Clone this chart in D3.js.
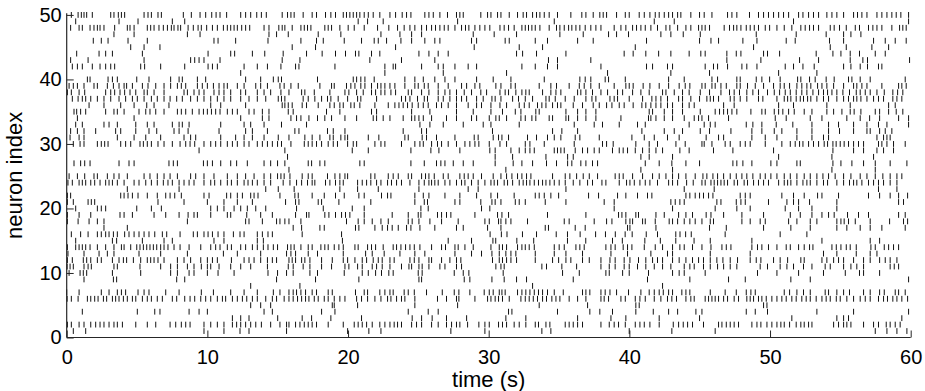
<!DOCTYPE html>
<html>
<head>
<meta charset="utf-8">
<script src="https://cdn.jsdelivr.net/npm/d3@7"></script>
<style>
  html, body { margin: 0; padding: 0; background: #fff; }
  svg { display: block; }
  text { font-family: "Liberation Sans", Arial, Helvetica, sans-serif; }
</style>
</head>
<body>
<svg id="chart" width="925" height="391"></svg>
<script>
// ---- tick labels ----
const xTicks = [0, 10, 20, 30, 40, 50, 60];
const yTicks = [0, 10, 20, 30, 40, 50];
const xLabel = "time (s)";
const yLabel = "neuron index";

// ---- spike times (s) per neuron ----
const n50 = [0.33,0.81,1.04,1.23,1.42,1.82,3.13,3.36,3.67,3.89,4.12,5.50,5.78,6.02,6.49,6.73,8.29,8.86,9.48,9.88,10.31,10.62,10.90,11.37,12.37,12.72,13.08,13.51,13.84,14.19,15.32,15.70,15.94,16.17,16.81,17.45,17.76,18.40,18.78,19.11,19.66,19.89,20.13,20.37,20.61,20.84,21.15,21.44,21.79,22.26,22.98,23.38,23.85,24.16,24.47,25.46,25.75,26.06,26.53,27.07,27.71,27.95,28.19,29.44,29.92,30.16,30.63,30.87,31.46,32.05,32.45,32.69,33.12,33.40,33.64,33.95,34.30,34.89,35.84,36.62,36.91,37.43,37.90,38.14,38.38,39.09,39.71,39.99,40.70,41.06,41.46,41.84,42.12,42.48,42.79,43.07,43.43,43.66,44.37,44.99,45.32,45.87,46.98,47.29,47.64,48.54,49.18,49.54,49.89,50.25,50.61,50.96,51.32,52.03,52.34,52.74,53.09,53.45,54.04,54.40,54.75,55.23,55.94,56.22,56.53,56.89,57.60,57.95,58.31,58.66,58.97,59.30,59.85];
const n49 = [0.64,3.72,5.07,7.51,8.39,20.72,21.39,22.50,27.79,34.66,41.77,43.19,51.67,59.85];
const n48 = [0.28,0.88,1.11,1.66,1.94,2.18,2.37,2.65,3.41,4.31,4.50,4.79,5.73,5.97,6.21,6.56,6.87,7.16,7.44,7.63,7.91,8.10,8.63,9.00,9.34,9.57,9.95,10.36,10.71,11.14,11.42,11.66,11.90,12.13,12.44,12.72,13.01,14.03,14.38,15.08,15.32,15.51,16.03,16.65,16.89,17.12,17.36,18.35,18.59,18.83,19.42,20.01,20.44,21.15,22.10,22.90,23.52,23.99,24.40,24.75,25.23,25.58,25.94,26.22,26.53,26.84,27.12,27.60,28.07,28.35,28.59,29.02,29.37,29.73,30.08,30.80,31.10,31.41,31.81,32.36,32.60,32.83,33.07,33.31,33.64,34.30,34.82,35.06,35.37,35.68,35.91,36.20,36.48,36.86,37.26,37.62,37.98,38.92,39.40,39.75,40.23,40.51,40.82,41.13,41.53,42.00,42.60,42.88,43.43,44.02,44.37,44.92,45.16,45.39,45.70,46.74,47.12,47.41,47.64,47.93,48.31,48.59,48.88,49.18,49.66,49.97,50.49,51.01,51.55,52.19,52.50,52.81,53.09,53.45,54.28,54.56,54.94,55.42,56.06,56.36,57.00,57.31,57.60,57.95,58.66,59.21,59.44,59.68];
const n47 = [3.36,4.79,8.58,9.48,14.38,14.92,15.75,17.88,19.49,22.34,23.69,24.52,25.23,28.90,30.39,31.98,35.06,36.72,38.52,39.09,39.94,42.24,42.95,43.83,45.04,49.02,51.86,53.99,55.23,55.75,56.46];
const n46 = [1.89,2.46,2.94,4.36,5.73,10.47,10.76,12.01,14.31,16.65,17.76,18.24,19.73,20.96,21.86,22.15,22.74,23.76,24.52,25.46,26.17,26.53,28.78,29.14,31.17,31.46,33.31,34.18,36.32,37.43,41.22,44.99,45.80,46.34,48.07,49.07,51.15,51.79,54.23,55.23,57.36,58.19,58.90,59.68];
const n45 = [4.55,5.50,6.63,16.03,17.69,23.38,28.97,32.17,33.83,40.42,48.83,54.28,55.42,57.24,58.43];
const n44 = [0.71,2.30,2.77,3.25,5.38,10.05,11.66,11.94,13.20,14.08,15.39,17.05,18.16,19.11,19.82,20.53,20.77,21.67,22.26,25.04,25.75,26.41,27.12,31.98,32.41,33.40,35.49,39.63,40.27,41.17,42.08,42.95,44.25,45.08,45.39,46.93,47.60,47.93,49.54,49.82,50.68,53.28,54.47,55.04,55.70,56.36,57.48,58.19];
const n43 = [0.28,1.52,5.50,8.81,9.10,9.41,9.76,10.90,15.32,16.58,21.55,23.80,26.17,34.25,34.89,37.26,46.93,49.35,52.10,53.45,55.70,56.60,56.93,59.92];
const n42 = [0.40,0.76,1.11,1.82,2.37,2.77,3.13,3.41,5.26,5.54,6.68,8.39,10.05,10.36,10.71,12.61,13.55,14.27,15.23,16.27,16.51,19.07,22.62,23.21,23.38,25.23,26.41,26.77,27.60,28.54,29.14,32.36,33.31,34.18,34.89,37.98,41.22,41.65,42.71,43.07,45.39,45.98,46.27,46.98,48.00,48.35,49.07,51.08,51.67,52.34,53.14,55.23,55.75,56.41,56.93,57.71,57.95];
const n41 = [12.37,22.62,26.77,31.27,38.45,42.95,45.70,50.61,53.33];
const n40 = [1.47,1.66,2.94,3.25,3.60,4.98,5.85,7.39,7.99,8.22,9.29,9.88,12.72,13.79,14.69,15.04,15.27,17.83,20.37,20.61,20.91,21.20,21.86,24.04,24.75,25.35,26.17,26.89,27.60,29.14,30.32,31.58,33.95,36.48,36.86,37.26,38.28,38.52,39.71,42.79,43.90,45.87,46.27,47.64,47.88,49.02,49.42,49.97,50.72,51.96,52.19,52.81,53.21,53.99,54.56,55.58,55.82,56.41,57.12,59.61];
const n39 = [0.17,0.47,0.76,1.23,1.94,2.18,2.89,3.32,3.72,4.08,4.26,4.67,5.38,5.78,6.33,6.92,7.39,7.87,8.15,8.46,9.29,9.64,10.00,10.43,10.83,11.18,11.42,12.13,12.61,13.44,13.79,14.27,15.16,15.46,15.94,16.46,18.00,18.83,19.02,19.89,20.20,20.49,20.91,21.20,21.67,22.10,22.34,22.62,22.98,23.33,24.04,24.75,24.99,25.42,25.70,26.41,27.12,28.07,28.43,29.02,29.37,30.51,30.87,31.58,31.89,33.59,34.42,34.82,35.72,36.44,36.79,37.26,37.86,38.92,39.75,39.99,40.27,40.98,41.46,42.12,42.79,43.54,43.97,44.30,45.16,45.39,45.87,46.10,46.51,46.89,47.64,47.88,48.40,48.95,49.54,50.25,50.72,51.01,51.39,51.91,52.26,52.62,52.90,53.38,53.69,54.04,54.52,55.23,55.94,56.17,56.53,56.89,57.95,59.14,59.37,59.68];
const n38 = [0.05,0.33,0.88,1.28,2.77,3.13,3.41,3.79,4.12,4.50,4.91,5.50,5.73,6.21,6.92,8.34,8.58,9.05,9.41,9.76,10.47,10.83,11.18,11.66,12.37,12.72,13.55,14.03,14.50,15.23,15.80,16.70,16.93,17.60,18.71,19.78,20.06,20.61,21.08,21.67,21.96,22.34,22.62,23.05,23.38,24.28,24.52,25.23,25.75,26.41,26.89,27.24,27.71,28.26,28.78,29.44,29.85,30.80,31.17,31.41,31.93,32.36,32.64,32.88,33.83,34.42,34.78,35.13,36.32,36.55,36.91,37.38,37.98,38.45,39.16,39.52,40.23,40.82,41.41,42.36,42.60,43.19,43.78,44.25,45.04,45.70,46.51,47.12,47.45,47.83,48.35,48.78,49.18,49.82,50.30,50.68,51.08,51.44,51.86,52.26,52.62,53.05,53.45,53.80,54.09,54.40,54.75,55.18,55.65,56.13,56.41,56.77,57.12,57.60,58.12,58.73,59.07,59.44];
const n37 = [0.40,0.81,1.11,1.35,1.71,2.18,2.65,3.13,3.72,4.19,4.67,5.02,5.50,6.02,6.44,6.92,7.35,7.82,8.22,8.81,9.29,9.76,10.24,10.71,11.18,11.66,12.37,12.96,13.55,14.15,15.04,15.27,15.51,16.81,17.17,17.64,18.12,18.54,18.78,19.30,19.97,20.68,20.91,22.03,23.80,24.09,24.40,24.94,25.42,25.65,26.41,26.77,27.24,27.71,28.07,28.43,29.14,29.61,30.23,30.46,30.87,31.70,32.12,32.60,33.12,34.07,34.30,34.73,35.44,36.08,36.91,37.34,37.62,38.62,38.92,39.16,39.99,40.94,41.60,41.89,42.24,42.71,43.50,43.78,44.37,44.99,45.51,45.75,45.98,46.34,47.17,47.45,47.88,48.35,49.18,49.49,50.49,51.01,51.25,51.48,51.86,52.15,52.38,52.67,52.90,53.33,53.80,54.16,54.75,55.23,55.58,55.94,56.17,56.46,56.89,57.36,57.71,58.07,58.73,59.02,59.37];
const n36 = [1.59,2.65,3.84,4.79,5.69,6.21,7.27,10.24,10.95,12.72,15.32,15.51,15.75,16.03,16.74,17.05,17.88,18.71,19.02,19.42,19.66,20.20,20.44,20.84,21.91,22.86,23.33,23.62,23.92,24.23,24.56,24.99,25.35,25.70,26.29,26.65,27.12,27.71,28.54,29.14,29.49,30.16,30.80,31.27,32.17,32.53,32.88,33.47,33.78,34.07,34.54,34.89,35.13,36.01,36.67,37.43,37.86,38.38,38.76,39.28,39.63,40.27,40.89,41.17,41.53,41.89,42.24,42.71,43.07,43.78,44.25,44.61,46.70,47.45,50.61,51.67,54.04,55.70,58.43,58.90];
const n35 = [0.52,0.71,0.99,1.35,2.77,3.36,3.60,4.08,5.14,5.62,5.92,6.33,6.92,7.87,8.15,8.46,8.93,9.41,9.72,10.00,10.29,10.59,10.90,11.42,11.78,12.13,12.96,13.32,13.91,14.38,15.75,16.10,18.47,19.42,21.67,22.03,24.52,25.82,27.71,28.90,30.16,30.98,31.89,32.29,33.35,33.59,35.49,36.32,36.91,37.62,41.41,41.65,42.48,43.07,43.78,45.04,46.10,46.41,46.70,46.98,47.29,47.64,48.64,49.42,49.66,50.30,50.61,50.91,51.32,51.72,52.43,52.98,54.04,54.52,55.11,55.70,55.98,56.46,57.48,57.79,58.43,58.97,59.44];
const n34 = [0.76,4.79,12.37,13.91,14.38,15.94,16.34,16.65,17.22,17.83,18.35,18.83,19.78,20.61,21.79,22.03,22.50,22.98,23.92,24.52,24.75,25.04,25.35,25.94,27.00,27.71,28.78,29.14,30.04,30.51,30.75,31.27,32.29,32.60,33.07,33.35,34.30,34.54,35.49,35.68,36.32,36.91,37.62,39.40,41.36,41.53,41.89,42.48,43.07,43.90,44.61,44.92,45.16,45.63,47.05,50.37,51.15,52.86,53.69,55.46,56.41,57.08,57.79,59.14,59.85];
const n33 = [0.64,1.11,2.65,3.01,3.60,4.91,5.73,6.21,7.51,7.99,8.22,8.70,10.95,12.61,13.08,14.03,15.27,17.05,25.11,25.82,26.77,28.19,29.61,30.16,32.17,36.08,37.50,38.09,39.28,40.58,41.13,44.25,45.32,45.75,46.10,48.31,48.78,49.42,50.44,51.62,52.98,54.16,54.87,55.94,56.89,57.71,58.31,59.85];
const n32 = [0.28,0.76,1.23,2.06,3.48,3.84,4.91,5.85,6.40,7.63,7.99,8.63,10.83,12.72,13.20,14.27,16.22,16.51,18.54,18.95,19.78,23.92,25.23,25.58,30.27,34.54,35.20,36.32,40.89,42.48,43.19,43.78,45.04,45.70,47.22,48.71,49.42,50.30,50.84,51.91,52.98,54.16,54.94,55.94,56.89,57.12,57.79,58.19,58.66];
const n31 = [0.24,0.88,1.23,3.60,4.79,5.62,6.68,8.34,8.81,9.17,10.95,12.01,12.61,13.20,14.03,15.04,15.80,16.93,17.45,18.00,18.71,18.95,19.49,19.78,19.97,21.44,22.19,24.04,24.28,25.27,25.58,26.29,27.60,28.97,29.25,30.32,30.70,30.94,31.41,32.76,33.40,34.18,34.66,35.13,36.15,36.48,37.86,40.18,41.06,41.77,42.71,43.54,45.46,46.34,46.70,48.71,49.66,50.49,51.91,52.98,53.80,54.16,57.60,58.07,58.31,58.54];
const n30 = [0.47,0.95,1.23,2.18,2.46,2.70,2.94,3.84,4.19,4.55,5.21,5.45,5.73,6.02,6.49,6.92,7.51,8.06,8.46,8.77,9.10,9.76,10.24,10.59,10.95,11.42,11.78,12.13,12.61,12.96,13.55,13.91,14.27,14.62,14.99,15.27,15.94,16.89,17.17,17.45,17.76,18.12,18.59,18.95,19.25,19.97,20.37,20.61,21.91,22.34,22.62,23.80,24.75,25.11,25.35,25.94,26.36,26.65,27.12,27.71,28.31,28.66,29.02,29.30,30.04,30.80,31.27,32.60,32.93,33.95,36.08,38.09,38.38,38.85,40.46,41.41,42.00,43.31,43.97,45.16,45.32,45.87,46.81,47.17,47.88,48.24,48.59,49.66,50.84,51.44,51.79,52.10,52.34,52.74,53.09,53.45,53.85,54.09,54.47,54.70,54.99,55.27,55.58,55.94,56.29,56.65,57.71,57.95,58.31,58.78,59.61];
const n29 = [9.41,15.51,20.30,21.44,24.47,25.89,26.46,27.95,30.08,30.46,31.58,32.17,32.60,32.93,33.24,34.66,34.89,35.13,35.37,36.15,36.67,37.03,37.50,37.86,38.80,39.28,39.56,39.87,40.42,40.94,41.41,41.89,42.36,43.59,44.25,45.98,47.36,50.25,54.47,55.94,56.65,57.60,58.07,58.78];
const n28 = [15.70,30.46,31.70,34.07,35.61,36.01,40.82,41.41,43.07,50.61,54.40,57.36];
const n27 = [0.52,0.99,1.28,1.66,3.72,4.43,4.79,7.27,7.58,7.87,9.72,10.00,10.36,10.95,11.66,12.08,12.84,14.03,14.50,14.99,15.51,17.17,17.41,18.00,18.35,20.84,21.15,24.47,25.42,26.29,26.60,26.89,27.48,28.19,28.90,30.46,31.74,32.36,33.12,34.11,34.82,35.61,35.91,36.55,36.91,37.38,37.74,41.13,42.12,43.02,44.02,44.99,47.36,47.64,48.07,48.71,50.06,50.49,51.91,52.15,54.47,55.04,55.82,56.65,57.48,58.54,59.73];
const n26 = [15.80,31.22,40.82,43.07,54.40,57.48];
const n25 = [0.17,0.76,1.28,1.94,2.18,2.89,3.36,3.72,4.31,5.50,5.92,6.44,6.92,7.35,7.87,8.81,9.17,9.76,10.47,11.42,12.13,12.72,13.32,14.03,14.50,14.99,15.23,15.46,15.87,16.74,17.17,17.45,18.54,19.07,19.42,19.78,19.97,21.62,21.91,22.86,23.21,23.57,24.28,24.52,25.23,25.51,25.75,26.13,26.77,27.12,27.95,28.26,28.54,28.90,29.49,30.32,30.87,31.27,31.65,32.05,32.36,32.69,33.00,34.54,35.44,35.77,36.25,36.72,37.15,37.74,38.99,39.28,39.56,40.23,40.94,41.65,42.12,42.60,43.07,43.50,44.02,44.68,45.23,45.51,45.94,46.27,46.70,47.17,47.60,48.00,48.35,48.78,49.30,49.66,50.06,50.49,51.01,51.44,51.91,52.43,52.86,53.33,53.76,54.16,54.63,55.23,55.75,56.41,56.89,57.48,58.02,58.54,59.02,59.37];
const n24 = [0.09,0.40,0.88,1.11,1.35,1.71,1.99,2.37,2.77,3.01,3.25,3.60,4.08,4.79,5.14,5.62,6.02,6.44,6.87,7.20,7.51,7.99,8.34,8.70,9.05,9.76,10.24,10.52,10.95,11.42,11.71,12.13,12.61,12.89,13.20,13.55,14.03,14.50,15.39,15.87,16.34,16.70,17.12,17.45,17.64,18.40,18.71,19.11,19.42,19.66,20.68,21.01,21.32,21.62,22.03,22.34,22.81,23.09,23.45,23.80,24.40,25.04,25.42,25.75,25.94,26.17,26.41,26.89,27.24,27.71,28.07,28.31,28.78,29.25,29.73,30.16,30.39,30.63,31.10,31.34,31.70,32.17,32.45,32.69,32.93,33.24,33.54,33.83,34.07,34.35,34.66,35.01,35.44,36.01,36.48,37.03,37.38,38.05,38.33,39.28,39.80,40.04,40.35,40.75,41.13,41.46,42.00,42.79,43.07,43.43,44.07,44.54,45.16,45.39,45.80,46.03,46.27,46.51,46.74,46.98,47.45,47.69,48.16,48.40,48.83,49.18,49.54,49.89,50.61,51.01,51.25,51.48,51.91,52.34,52.62,52.86,53.33,53.80,54.09,54.75,55.23,55.65,55.94,56.17,56.53,57.00,57.36,57.71,58.07,58.54,59.02];
const n23 = [4.31,7.99,14.15,15.04,16.17,19.42,20.68,22.15,25.04,28.54,29.25,35.49,43.90,46.03,57.71,59.02];
const n22 = [0.05,0.28,3.84,4.08,4.36,4.67,5.07,5.73,6.44,7.04,7.35,7.68,8.15,9.76,10.12,11.37,11.66,12.13,12.49,13.08,13.32,13.60,15.16,16.22,16.46,17.45,18.31,19.11,19.73,20.77,21.15,22.38,22.81,23.05,24.75,25.35,25.75,26.89,27.95,29.14,30.16,30.63,31.81,33.31,33.59,33.95,34.42,34.97,37.10,37.81,39.16,39.75,40.58,41.29,41.60,44.02,44.30,44.68,44.99,45.27,45.63,45.94,47.88,48.24,48.59,50.84,51.67,52.43,53.38,53.69,54.87,57.00,57.79,58.54,59.14,59.78];
const n21 = [0.05,0.47,1.52,1.75,1.99,6.49,8.34,10.00,11.18,12.13,13.20,15.56,16.27,16.51,17.88,18.12,19.35,21.62,24.75,25.42,25.65,27.60,27.95,29.44,30.23,30.46,30.87,31.89,32.17,32.60,34.02,35.49,38.21,38.92,42.95,43.26,43.59,43.90,46.22,46.51,47.60,47.93,48.24,49.89,51.20,51.67,52.03,52.81,54.75,59.14,59.49];
const n20 = [0.64,2.18,2.46,2.77,4.98,6.02,6.73,10.24,10.71,11.18,11.90,12.37,12.84,13.44,14.15,16.34,18.24,20.30,21.15,25.18,25.70,29.49,30.08,38.92,43.07,46.10,47.64,48.59,51.08,52.03,52.98,54.75];
const n19 = [0.05,0.88,1.71,3.79,4.08,4.67,6.21,7.04,7.99,8.63,9.05,9.29,10.24,11.42,11.66,12.80,13.79,14.62,16.27,17.05,17.22,18.35,18.64,19.11,19.54,19.82,20.13,21.15,23.14,24.28,24.99,25.18,26.36,26.65,27.00,27.31,29.02,30.63,30.94,31.41,34.18,36.91,39.23,39.47,39.75,40.46,40.65,41.89,42.48,43.50,44.02,44.49,45.46,45.80,46.70,48.00,49.54,51.44,52.15,52.98,53.69,54.16,54.56,55.51,56.29,57.00,59.14,59.61];
const n18 = [0.05,0.81,1.59,2.18,2.65,8.58,12.72,12.96,13.91,14.92,15.16,15.51,15.80,16.65,19.89,20.72,21.15,21.72,22.34,22.86,24.28,24.56,25.04,25.82,26.65,27.83,29.73,30.04,30.70,30.87,31.22,31.58,32.76,35.37,35.72,37.50,38.38,38.76,39.75,40.04,40.23,40.94,41.13,41.84,42.83,43.07,43.43,43.90,44.30,44.68,45.16,45.75,45.98,48.00,48.59,49.30,49.66,51.32,51.91,52.86,53.33,54.75,55.04,55.27,55.58,56.06,57.12,58.50,59.49,59.78];
const n17 = [2.65,4.31,16.10,16.70,18.00,18.31,20.53,20.77,21.91,22.43,22.81,23.14,23.57,24.16,24.47,25.11,26.17,27.71,28.19,29.92,30.87,34.02,34.25,36.15,36.86,39.87,40.04,41.89,45.70,46.89,49.54,51.48,52.86,54.75,55.46,56.41,57.12,57.95,59.61];
const n16 = [0.33,0.99,1.52,2.18,2.46,2.77,3.01,3.32,3.60,4.12,4.43,4.79,5.14,5.50,5.85,6.26,6.80,7.11,8.06,9.00,9.29,9.76,10.05,10.36,10.76,11.18,11.85,12.32,12.61,13.55,13.91,14.31,14.62,16.74,19.54,30.10,30.90,31.30,32.40,33.40,34.80,35.60,36.50,37.60,38.30,39.00,39.70,40.20,41.20,42.00,43.30,43.60,44.00,44.40,46.81,50.72,52.62];
const n15 = [0.64,3.25,3.55,5.38,6.92,7.51,10.47,11.18,13.55,13.98,19.60,27.12,28.78,30.30,30.50,32.00,33.20,35.60,36.90,38.80,39.50,41.10,42.20,43.30,44.60,45.75,48.71,53.69,57.12,57.79];
const n14 = [0.05,0.64,0.88,1.11,1.35,1.66,2.18,2.77,3.36,3.89,4.08,4.55,4.98,5.21,5.45,5.69,5.92,6.16,6.40,6.68,6.92,7.20,7.63,8.06,8.70,9.53,10.24,10.59,10.90,11.42,11.71,12.37,12.72,13.20,13.55,13.98,14.31,14.69,14.99,15.70,15.94,16.17,16.65,17.17,17.45,18.07,18.35,18.59,19.02,19.35,19.66,20.49,20.72,21.39,21.67,21.96,22.50,23.21,23.45,23.76,24.09,24.40,24.71,25.11,25.94,26.65,26.93,27.60,27.83,28.31,28.90,30.16,30.75,30.98,31.27,32.05,32.36,32.60,32.88,33.24,34.66,35.01,35.37,36.20,36.48,36.79,38.33,38.69,38.99,39.56,39.87,40.18,41.06,41.84,42.36,43.07,43.59,43.90,44.49,45.16,45.80,46.58,46.89,47.22,48.71,49.11,49.42,49.89,50.49,51.15,51.44,52.03,52.43,52.81,53.05,54.40,54.71,55.04,55.42,55.70,56.13,57.17,57.48,58.12,58.43,58.78,59.14];
const n13 = [0.09,1.23,2.30,2.89,3.36,5.14,6.68,8.58,11.14,12.13,13.79,15.63,15.94,16.27,17.17,17.83,19.66,21.25,21.72,22.57,23.69,24.75,25.46,27.60,28.78,29.49,30.23,30.75,31.22,31.58,31.93,33.31,34.66,35.49,36.67,38.69,39.87,41.53,42.71,43.07,45.75,48.59,53.80,54.75,56.13,57.12,57.60];
const n12 = [0.05,0.40,1.18,1.42,1.71,2.18,2.46,3.25,3.72,4.03,4.26,4.74,5.26,5.73,5.97,6.21,6.49,6.92,7.87,8.34,8.81,9.53,10.00,10.36,10.71,11.71,12.61,12.96,13.32,13.79,14.27,14.62,14.92,15.80,16.03,16.27,16.70,16.93,17.29,18.12,18.88,19.66,19.97,20.49,21.01,21.32,21.79,22.15,22.43,22.98,23.28,24.40,24.71,25.04,25.75,25.94,26.65,27.24,27.71,28.02,30.27,30.75,30.98,31.27,31.58,31.98,33.31,34.54,34.97,35.49,35.84,36.67,37.15,37.98,38.62,38.99,39.63,40.04,40.65,41.17,41.65,42.00,42.36,43.07,43.54,44.02,44.49,44.92,45.27,45.75,46.22,46.65,47.17,47.69,48.59,49.02,49.35,50.25,50.72,51.25,52.19,52.43,53.69,54.04,54.52,54.87,55.23,55.94,56.65,57.12,57.79,58.19,58.54,59.02];
const n11 = [0.03,0.24,0.47,1.23,1.52,1.75,3.36,3.60,5.21,6.68,7.39,7.87,8.58,9.05,9.57,10.00,10.24,10.83,11.66,12.37,13.08,14.27,15.75,16.10,16.81,17.29,18.12,18.83,19.78,20.06,20.68,21.01,21.72,22.03,22.43,22.98,23.80,24.33,24.52,25.04,25.27,25.75,26.53,26.89,27.71,28.07,30.51,30.87,31.10,33.78,34.11,35.20,36.25,37.98,38.57,38.99,39.63,39.99,40.58,41.17,41.77,42.36,42.95,43.90,44.30,44.61,45.27,45.75,46.27,46.70,47.17,47.64,49.30,49.82,50.72,51.20,51.67,52.38,52.98,53.92,54.28,55.23,55.75,56.17,56.65,58.54,58.83,59.14];
const n10 = [0.17,0.95,1.18,1.42,3.25,5.26,7.39,7.87,8.70,9.05,10.00,10.76,11.90,14.31,14.99,15.63,16.10,17.29,17.83,19.73,21.01,21.44,21.96,22.38,22.90,23.21,24.99,25.27,27.55,28.19,28.59,31.03,35.25,36.44,38.33,38.57,39.52,39.99,41.36,43.07,43.54,43.90,45.39,49.11,50.49,52.03,53.80,55.35,56.36,56.65,57.79];
const n9 = [1.23,3.32,3.55,7.82,8.39,14.92,17.69,20.77,25.04,25.23,28.26,28.66,30.23,31.10,31.98,32.69,36.01,41.29,44.30,47.05,48.24,51.48,52.86,59.85];
const n8 = [13.08,16.58,33.12,42.36];
const n7 = [0.00,0.88,2.46,3.01,3.60,3.89,4.19,5.07,5.50,5.85,7.04,7.99,9.57,10.43,11.66,12.61,13.55,14.69,15.16,15.80,16.10,16.34,16.65,16.98,17.45,17.76,18.59,18.88,20.53,21.15,21.39,22.26,22.62,22.98,23.21,23.99,24.28,24.71,25.58,26.70,27.55,27.88,28.66,29.68,30.04,30.32,30.75,30.94,31.17,32.05,32.36,32.64,32.93,33.24,33.54,33.83,34.18,34.66,35.30,36.67,36.91,37.19,37.98,38.28,38.62,39.09,39.94,40.82,41.41,41.77,42.12,42.41,42.79,43.07,43.73,44.02,44.30,45.75,46.81,47.60,48.31,48.64,48.95,51.01,51.39,51.91,52.38,52.86,53.92,54.16,54.75,55.23,55.65,56.65,57.12,57.79,58.12,58.90,59.14,59.61];
const n6 = [0.03,0.33,0.81,1.47,1.71,1.99,2.23,2.61,2.84,3.25,3.48,3.72,4.03,4.31,4.67,4.91,5.38,5.73,6.02,6.44,6.80,7.51,7.82,8.39,8.77,9.10,9.53,9.88,10.24,10.71,11.07,11.30,11.78,12.13,12.49,12.80,13.20,13.55,14.15,14.62,14.92,15.46,15.80,16.10,16.41,16.70,16.98,17.22,17.60,17.88,18.31,18.59,19.02,19.42,19.78,20.61,20.96,21.39,21.91,22.34,22.81,23.05,23.45,23.80,24.04,24.75,26.36,27.00,27.71,27.88,29.02,29.92,30.16,30.46,30.70,30.98,31.46,32.29,32.60,32.88,33.17,33.47,33.83,34.11,34.49,34.78,35.06,35.72,36.32,36.91,37.98,38.21,38.52,39.40,39.71,40.42,40.75,41.13,41.77,42.24,42.71,43.02,43.35,44.02,44.37,44.61,45.39,45.63,45.87,46.10,46.34,46.70,46.98,47.45,47.76,48.35,48.59,48.83,49.18,49.42,49.73,50.13,50.49,50.84,51.15,51.55,51.86,52.26,52.57,52.86,53.28,53.69,53.99,54.28,54.71,54.99,55.46,55.94,56.41,56.77,57.12,57.71,58.07,58.35,58.73,59.02,59.37,59.78];
const n5 = [13.08,13.79,14.50,18.88,19.02,20.68,24.75,27.79,33.59,37.03,40.46,40.70,49.54,49.78];
const n4 = [1.11,5.02,6.26,6.63,8.70,9.41,10.00,14.03,14.62,18.12,19.07,24.28,25.70,26.41,31.41,31.65,34.89,37.19,37.90,38.80,40.46,41.70,42.79,43.43,44.73,45.16,48.31,48.95,49.82,53.33,55.94,59.85];
const n3 = [11.78,12.37,12.96,15.00,16.74,17.41,18.78,20.96,24.56,25.23,25.98,27.00,28.43,31.22,32.64,36.32,38.69,39.75,42.12,44.99,51.55,54.75,55.23,55.58,59.37];
const n2 = [0.05,0.33,0.88,1.23,1.71,2.06,2.37,2.65,3.01,3.36,3.60,3.96,4.91,5.73,6.33,7.35,7.75,8.15,8.46,8.77,9.76,10.24,10.71,11.18,11.78,12.08,12.37,12.72,13.08,13.44,13.84,14.50,15.16,15.63,15.80,16.27,16.58,16.89,17.17,17.45,17.76,18.59,19.66,20.44,20.72,21.01,21.32,21.72,22.26,22.62,22.98,23.28,23.52,23.80,24.52,24.87,25.23,25.94,26.41,27.00,27.36,27.71,27.95,28.50,29.30,29.73,30.04,30.70,30.98,31.27,31.81,32.17,32.64,33.31,33.54,34.07,34.35,35.44,35.72,36.01,36.32,36.67,37.98,38.57,38.92,39.23,39.71,40.42,40.75,41.06,41.46,42.12,43.12,43.50,43.83,44.14,44.49,45.27,46.34,46.58,46.89,47.17,47.45,47.76,48.71,49.07,49.35,49.78,50.13,50.49,50.77,51.01,51.39,51.86,52.19,52.43,52.74,52.98,54.52,54.87,55.23,55.46,55.75,56.65,57.36,57.71,58.26,58.54,58.90,59.25];
const n1 = [0.47,1.35,9.76,11.18,12.32,12.96,15.63,19.97,21.48,22.34,27.31,29.73,33.78,34.42,39.99,43.02,46.10,57.48,58.31,59.02,59.73];

const trains = [n1,n2,n3,n4,n5,n6,n7,n8,n9,n10,n11,n12,n13,n14,n15,n16,n17,n18,n19,n20,
                n21,n22,n23,n24,n25,n26,n27,n28,n29,n30,n31,n32,n33,n34,n35,n36,n37,n38,n39,n40,
                n41,n42,n43,n44,n45,n46,n47,n48,n49,n50];

// ---- layout ----
const svg = d3.select("#chart");
const plotL = 66.7, plotR = 910.7, plotT = 13.3, plotB = 337.5;
const x = d3.scaleLinear().domain([0, 60]).range([plotL, plotR]);
const y = d3.scaleLinear().domain([0, 50.25]).range([plotB, plotT]);
const axisColor = "#262626";
const tickFont = 20;
const labelFont = 22;

// spikes
const spikeData = [];
trains.forEach((times, k) => {
  const neuron = k + 1;
  times.forEach(t => spikeData.push({ t, neuron }));
});
svg.append("g")
  .selectAll("line")
  .data(spikeData)
  .join("line")
  .attr("x1", d => x(d.t))
  .attr("x2", d => x(d.t))
  .attr("y1", d => y(d.neuron - 0.45))
  .attr("y2", d => y(d.neuron + 0.45))
  .attr("stroke", "#111")
  .attr("stroke-width", 1);

// axes (inward ticks)
const xAxis = d3.axisBottom(x).tickValues(xTicks).tickSize(-7).tickPadding(12).tickFormat(d3.format("d"));
const yAxis = d3.axisLeft(y).tickValues(yTicks).tickSize(-7).tickPadding(5).tickFormat(d3.format("d"));

const gx = svg.append("g").attr("transform", `translate(0,${plotB})`).call(xAxis);
const gy = svg.append("g").attr("transform", `translate(${plotL},0)`).call(yAxis);

[gx, gy].forEach(g => {
  g.select(".domain").attr("stroke", axisColor).attr("stroke-width", 1.2);
  g.selectAll(".tick line").attr("stroke", axisColor).attr("stroke-width", 1);
  g.selectAll(".tick text")
    .attr("fill", "#000")
    .style("font-family", '"Liberation Sans", Arial, sans-serif')
    .style("font-size", tickFont + "px");
});
gx.select(".domain").attr("d", `M${plotL},0H${plotR}`);
gy.select(".domain").attr("d", `M0,${plotB}V${plotT}`);

// axis labels
svg.append("text")
  .attr("x", (plotL + plotR) / 2)
  .attr("y", 387)
  .attr("text-anchor", "middle")
  .style("font-size", labelFont + "px")
  .attr("fill", "#000")
  .text(xLabel);

svg.append("text")
  .attr("transform", `translate(22,${(plotT + plotB) / 2}) rotate(-90)`)
  .attr("text-anchor", "middle")
  .style("font-size", labelFont + "px")
  .attr("fill", "#000")
  .text(yLabel);
</script>
</body>
</html>
